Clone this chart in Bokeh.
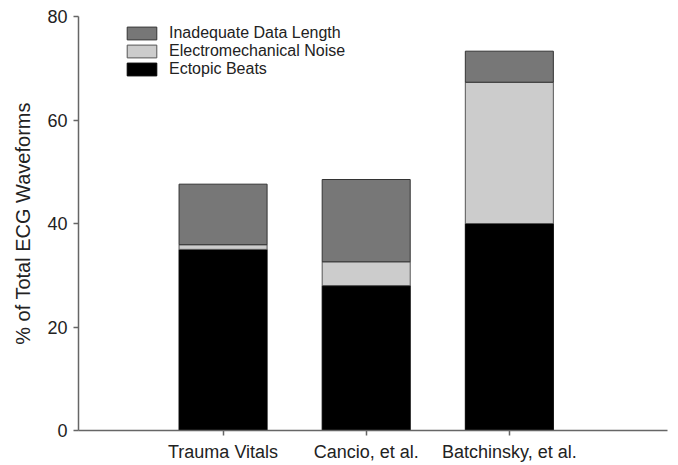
from bokeh.plotting import figure
from bokeh.models import ColumnDataSource, Range1d, FixedTicker, Legend, LegendItem
from bokeh.embed import file_html
from bokeh.resources import INLINE

studies = ["Trauma Vitals", "Cancio, et al.", "Batchinsky, et al."]
positions = [1, 2, 3]
ectopic = [35.0, 28.0, 40.0]
noise = [0.9, 4.6, 27.3]
inadequate = [11.7, 15.9, 6.0]

series_keys = ["ectopic", "noise", "inadequate"]
series_labels = ["Ectopic Beats", "Electromechanical Noise", "Inadequate Data Length"]
colors = ["#000000", "#cccccc", "#777777"]
outlines = ["#000000", "#555555", "#333333"]

src = ColumnDataSource(dict(x=positions, ectopic=ectopic, noise=noise, inadequate=inadequate))

p = figure(width=678, height=465, output_backend="svg", toolbar_location=None,
           x_range=Range1d(-0.01, 4.105), y_range=Range1d(0, 80),
           min_border_left=78, min_border_right=11, min_border_top=16, min_border_bottom=35)

renderers = p.vbar_stack(series_keys, x="x", width=0.615, source=src,
                         fill_color=colors, line_color=outlines, line_width=1)

font = "Liberation Sans"
p.xgrid.visible = False
p.ygrid.visible = False
p.outline_line_color = None

p.xaxis.ticker = FixedTicker(ticks=positions)
p.xaxis.major_label_overrides = {pos: s for pos, s in zip(positions, studies)}
p.yaxis.ticker = FixedTicker(ticks=[0, 20, 40, 60, 80])
for ax in (p.xaxis, p.yaxis):
    ax.axis_line_color = "#666666"
    ax.axis_line_width = 1.5
    ax.major_tick_line_color = "#666666"
    ax.major_tick_line_width = 1.5
    ax.major_tick_in = 0
    ax.major_tick_out = 5
    ax.minor_tick_line_color = None
    ax.major_label_text_font = font
    ax.major_label_text_font_size = "18px"
    ax.major_label_text_color = "#222222"
p.xaxis.major_label_standoff = 6
p.yaxis.major_label_standoff = 6
p.yaxis.axis_label = "% of Total ECG Waveforms"
p.yaxis.axis_label_text_font = font
p.yaxis.axis_label_text_font_size = "20px"
p.yaxis.axis_label_text_font_style = "normal"
p.yaxis.axis_label_text_color = "#222222"
p.yaxis.axis_label_standoff = 10

items = [LegendItem(label=series_labels[i], renderers=[renderers[i]]) for i in (2, 1, 0)]
legend = Legend(items=items, location=(45, 352), padding=0, spacing=0, margin=0,
                glyph_width=37, glyph_height=16, label_height=16, label_standoff=9,
                label_text_font=font, label_text_font_size="16px", label_text_color="#222222",
                border_line_color=None, background_fill_alpha=0)
p.add_layout(legend, "center")

open("out.html", "w").write(file_html(p, INLINE))
